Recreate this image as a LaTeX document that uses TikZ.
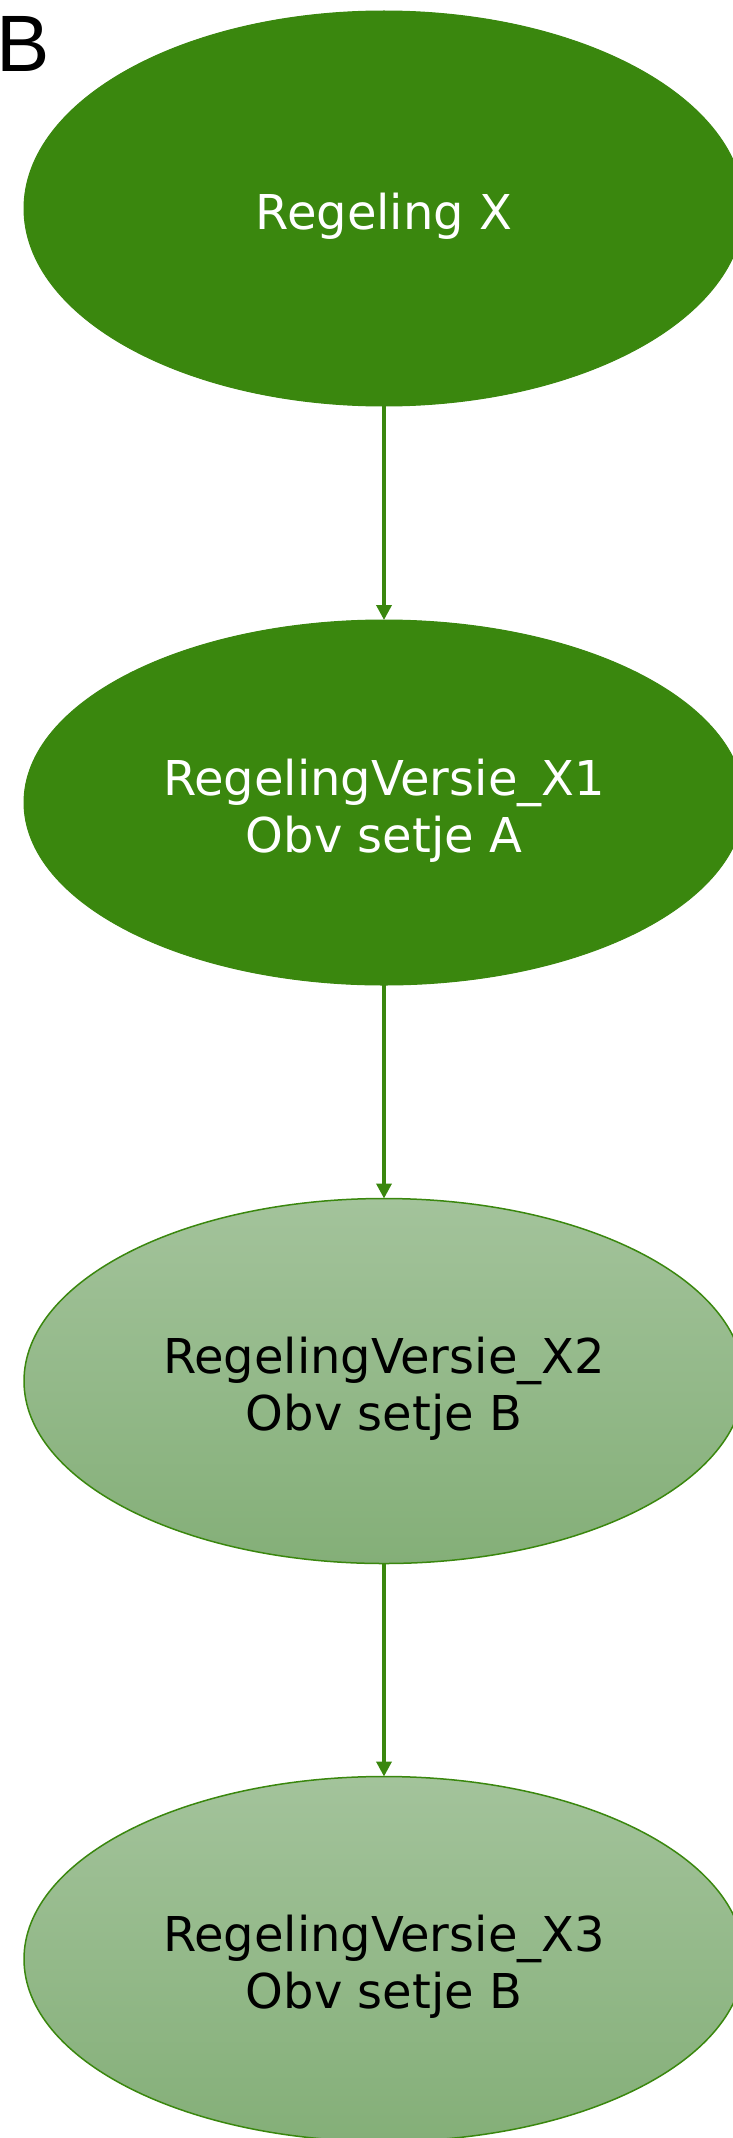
\documentclass[tikz,border=0pt]{standalone}
\usepackage{fontspec}
\setmainfont{DejaVu Sans}
\newfontfamily\labelfont{Liberation Sans}
\usetikzlibrary{shapes.geometric,arrows.meta}
\definecolor{dkgreen}{RGB}{58,135,14}
\definecolor{lttop}{RGB}{163,195,155}
\definecolor{ltbot}{RGB}{132,175,120}
\newcommand{\topstrut}{\rule{0pt}{52pt}}
\tikzset{
  darkell/.style={ellipse, fill=dkgreen, draw=dkgreen, line width=1pt, text=white,
    minimum width=720pt, inner sep=0pt, outer sep=0pt, align=center,
    font=\fontsize{48}{57}\selectfont},
  lightell/.style={ellipse, top color=lttop, bottom color=ltbot, draw=dkgreen, line width=1.5pt, text=black,
    minimum width=720pt, minimum height=365pt, inner sep=0pt, outer sep=0pt, align=center,
    font=\fontsize{48}{57}\selectfont},
  conn/.style={draw=dkgreen, line width=3.5pt, -{Triangle[width=15pt,length=15pt]}}
}
\begin{document}
\begin{tikzpicture}[x=1pt,y=1pt]
\useasboundingbox (0,0) rectangle (733,-2138);
\node[anchor=base west, inner sep=0pt, font=\labelfont\fontsize{80}{80}\selectfont] (lbl) at (-4,-72) {B};
\node[darkell, minimum height=395pt] (r) at (384,-208.5) {\topstrut Regeling X};
\node[darkell, minimum height=365pt] (x1) at (384,-802.5) {\topstrut RegelingVersie\_X1\\Obv setje A};
\node[lightell] (x2) at (384,-1381) {\topstrut RegelingVersie\_X2\\Obv setje B};
\node[lightell] (x3) at (384,-1959) {\topstrut RegelingVersie\_X3\\Obv setje B};
\draw[conn] (r) -- (x1);
\draw[conn] (x1) -- (x2);
\draw[conn] (x2) -- (x3);
\end{tikzpicture}
\end{document}
